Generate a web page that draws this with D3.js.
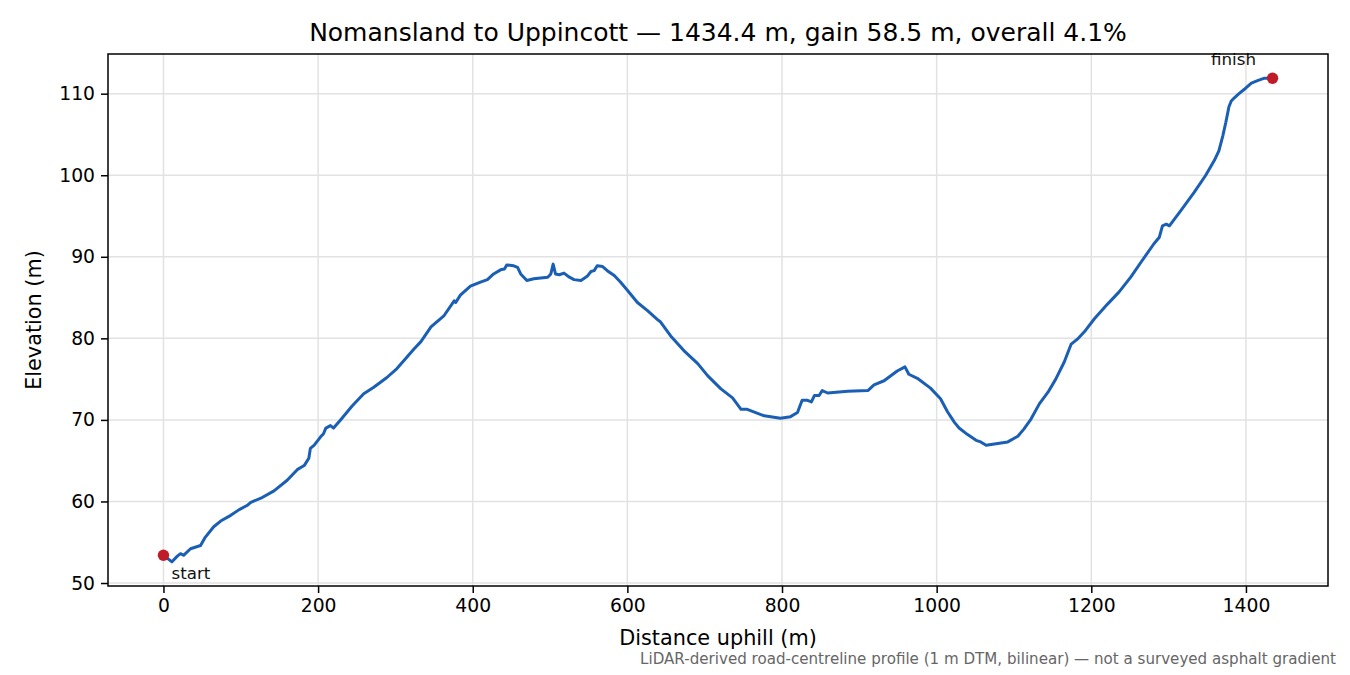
<!DOCTYPE html>
<html>
<head>
<meta charset="utf-8">
<script src="https://cdn.jsdelivr.net/npm/d3@7"></script>
<style>
  body { margin: 0; background: #fff; }
  svg { font-family: "DejaVu Sans", sans-serif; }
</style>
</head>
<body>
<div class="canvas"></div>
<script>
// profile (distance in m, elevation in m)
const distance = [
  0, 11, 18, 22, 26, 35, 48, 54, 65, 74,
  87, 98, 108, 113, 126, 143, 160, 173, 182, 188,
  190, 195, 203, 207, 210, 216, 220, 229, 244, 259,
  272, 289, 302, 315, 324, 333, 346, 363, 376, 378,
  384, 397, 410, 419, 427, 436, 441, 444, 453, 458,
  462, 470, 479, 497, 501, 504, 507, 512, 518, 525,
  531, 540, 548, 553, 557, 561, 568, 574, 583, 591,
  600, 613, 626, 639, 643, 656, 673, 691, 704, 721,
  736, 747, 755, 777, 798, 811, 820, 826, 833, 838,
  842, 848, 852, 859, 885, 911, 919, 932, 949, 959,
  964, 975, 992, 1005, 1014, 1023, 1029, 1040, 1051, 1057,
  1064, 1079, 1092, 1105, 1113, 1122, 1133, 1144, 1154, 1165,
  1174, 1182, 1191, 1204, 1221, 1236, 1251, 1264, 1281, 1288,
  1292, 1297, 1301, 1316, 1333, 1348, 1359, 1365, 1370, 1374,
  1378, 1381, 1385, 1391, 1400, 1407, 1415, 1424, 1434.4
]
const elevation = [
  53.4, 52.6, 53.3, 53.6, 53.4, 54.2, 54.6, 55.6, 56.9, 57.6,
  58.3, 59.0, 59.5, 59.9, 60.4, 61.3, 62.6, 63.9, 64.4, 65.3,
  66.5, 66.9, 67.9, 68.3, 69.0, 69.3, 69.0, 70.0, 71.7, 73.2,
  74.0, 75.2, 76.3, 77.7, 78.7, 79.6, 81.4, 82.8, 84.6, 84.4,
  85.3, 86.4, 86.9, 87.2, 87.9, 88.4, 88.5, 89.0, 88.9, 88.7,
  87.9, 87.1, 87.3, 87.5, 87.9, 89.1, 87.9, 87.8, 88.0, 87.5,
  87.2, 87.1, 87.6, 88.2, 88.3, 88.9, 88.8, 88.3, 87.7, 86.9,
  85.9, 84.4, 83.4, 82.3, 82.0, 80.3, 78.5, 76.9, 75.4, 73.8,
  72.7, 71.3, 71.3, 70.5, 70.2, 70.4, 70.9, 72.4, 72.4, 72.2,
  73.0, 73.0, 73.6, 73.3, 73.5, 73.6, 74.3, 74.8, 76.0, 76.5,
  75.6, 75.1, 73.9, 72.6, 71.0, 69.7, 69.0, 68.2, 67.5, 67.3,
  66.9, 67.1, 67.3, 68.0, 68.9, 70.1, 72.0, 73.4, 75.0, 77.1,
  79.3, 79.9, 80.8, 82.4, 84.2, 85.7, 87.5, 89.3, 91.6, 92.4,
  93.8, 94.0, 93.8, 95.7, 97.9, 100.0, 101.8, 103.0, 104.8, 106.5,
  108.4, 109.1, 109.5, 110.0, 110.7, 111.3, 111.6, 111.9, 111.9
]
const xTicks = [0, 200, 400, 600, 800, 1000, 1200, 1400]
const yTicks = [50, 60, 70, 80, 90, 100, 110]
const fromName = 'Nomansland'
const toName = 'Uppincott'
const footnote = 'LiDAR-derived road-centreline profile (1 m DTM, bilinear) \u2014 not a surveyed asphalt gradient'

const data = distance.map((d, i) => [d, elevation[i]])

// dimensions
const dimensions = { width: 1350, height: 675 }
const margin = { top: 54, right: 22, bottom: 89, left: 108 }
const graphWidth = dimensions.width - margin.left - margin.right
const graphHeight = dimensions.height - margin.top - margin.bottom

const svg = d3.select('.canvas')
  .append('svg')
  .attr('width', dimensions.width)
  .attr('height', dimensions.height)

const graph = svg.append('g')
  .attr('transform', `translate(${margin.left}, ${margin.top})`)

// scales with matplotlib-like 5% padding
const xMax = d3.max(distance)
const xPad = xMax * 0.05
const x = d3.scaleLinear().domain([-xPad, xMax + xPad]).range([0, graphWidth])

const yMin = d3.min(elevation), yMax = d3.max(elevation)
const yPad = (yMax - yMin) * 0.05
const y = d3.scaleLinear().domain([yMin - yPad, yMax + yPad]).range([graphHeight, 0])

// grid
graph.append('g')
  .selectAll('line')
  .data(xTicks)
  .enter().append('line')
  .attr('x1', d => x(d)).attr('x2', d => x(d))
  .attr('y1', 0).attr('y2', graphHeight)
  .attr('stroke', '#e2e2e2').attr('stroke-width', 1.5)

graph.append('g')
  .selectAll('line')
  .data(yTicks)
  .enter().append('line')
  .attr('x1', 0).attr('x2', graphWidth)
  .attr('y1', d => y(d)).attr('y2', d => y(d))
  .attr('stroke', '#e2e2e2').attr('stroke-width', 1.5)

// axes
const xAxis = d3.axisBottom(x).tickValues(xTicks).tickSize(7).tickPadding(6).tickFormat(d3.format('d'))
const yAxis = d3.axisLeft(y).tickValues(yTicks).tickSize(7).tickPadding(6).tickFormat(d3.format('d'))

const xAxisGroup = graph.append('g')
  .attr('transform', `translate(0, ${graphHeight})`)
  .call(xAxis)
const yAxisGroup = graph.append('g').call(yAxis)

;[xAxisGroup, yAxisGroup].forEach(g => {
  g.select('.domain').remove()
  g.selectAll('line').attr('stroke', '#000').attr('stroke-width', 1.5)
  g.selectAll('text').attr('fill', '#000').style('font-size', '18.75px').style('font-family', '"DejaVu Sans", sans-serif')
})

// profile line
const line = d3.line()
  .x(d => x(d[0]))
  .y(d => y(d[1]))

graph.append('path')
  .datum(data)
  .attr('fill', 'none')
  .attr('stroke', '#1a5fb4')
  .attr('stroke-width', 3)
  .attr('stroke-linejoin', 'round')
  .attr('d', line)

// start / finish markers
const ends = [data[0], data[data.length - 1]]
graph.selectAll('circle')
  .data(ends)
  .enter().append('circle')
  .attr('cx', d => x(d[0]))
  .attr('cy', d => y(d[1]))
  .attr('r', 5.7)
  .attr('fill', '#c01c28')

graph.append('text')
  .attr('x', x(ends[0][0]) + 8)
  .attr('y', y(ends[0][1]) + 24)
  .style('font-size', '16.7px')
  .attr('fill', '#111')
  .text('start')

graph.append('text')
  .attr('x', x(ends[1][0]) - 39)
  .attr('y', y(ends[1][1]) - 13)
  .attr('text-anchor', 'middle')
  .style('font-size', '16.7px')
  .attr('fill', '#111')
  .text('finish')

// frame
graph.append('rect')
  .attr('width', graphWidth).attr('height', graphHeight)
  .attr('fill', 'none').attr('stroke', '#000').attr('stroke-width', 1.5)

// title & labels
const length = xMax
const gain = elevation[elevation.length - 1] - elevation[0]
svg.append('text')
  .attr('x', margin.left + graphWidth / 2)
  .attr('y', 41)
  .attr('text-anchor', 'middle')
  .style('font-size', '25px')
  .text(`${fromName} to ${toName} \u2014 ${length.toFixed(1)} m, gain ${gain.toFixed(1)} m, overall ${(gain / length * 100).toFixed(1)}%`)

svg.append('text')
  .attr('x', margin.left + graphWidth / 2)
  .attr('y', 645)
  .attr('text-anchor', 'middle')
  .style('font-size', '20.8px')
  .text('Distance uphill (m)')

svg.append('text')
  .attr('transform', `translate(41, ${margin.top + graphHeight / 2}) rotate(-90)`)
  .attr('text-anchor', 'middle')
  .style('font-size', '20.8px')
  .text('Elevation (m)')

svg.append('text')
  .attr('x', 1336)
  .attr('y', 664)
  .attr('text-anchor', 'end')
  .attr('fill', '#666')
  .style('font-size', '15.1px')
  .text(footnote)
</script>
</body>
</html>
